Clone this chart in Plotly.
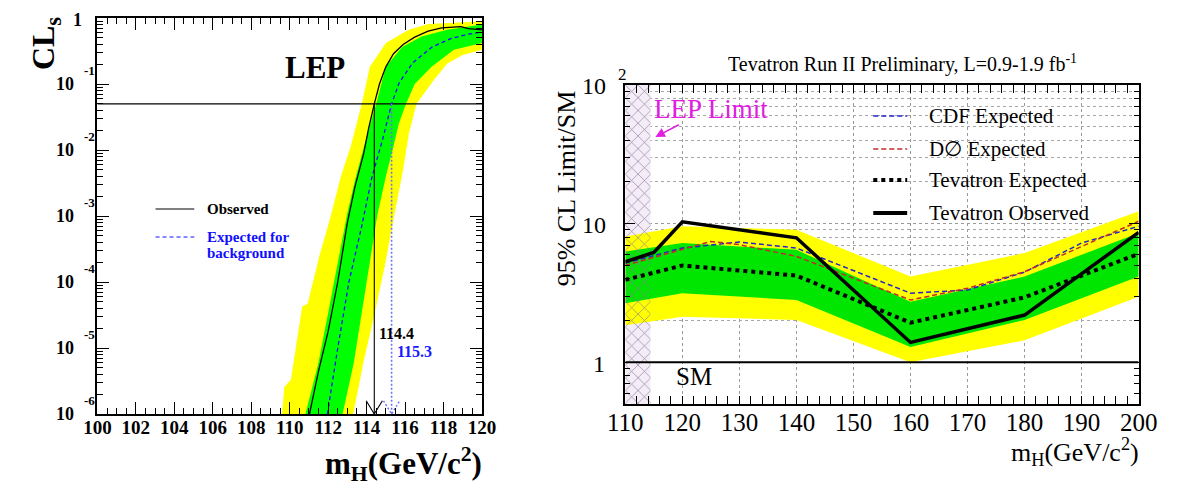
import plotly.graph_objects as go

W, H = 1178, 484
SERIF = "Liberation Serif"

# ---------------- LEP combined CLs (left) ----------------
obs_mass = [111.03, 111.5, 112.0, 112.5, 113.0, 113.4, 113.85, 114.1, 114.4, 114.67,
            115.0, 115.4, 115.9, 116.5, 117.2, 117.9, 118.9, 119.3, 120.0]
obs_cls = [1.0e-6, 4.47e-6, 1.78e-5, 1.0e-4, 7.94e-4, 2.82e-3, 8.91e-3, 0.0209, 0.050, 0.100,
           0.182, 0.288, 0.398, 0.513, 0.631, 0.708, 0.741, 0.692, 0.661]

exp_mass = [111.96, 112.5, 113.08, 113.75, 114.27, 114.85, 115.3, 115.7, 116.4, 117.4,
            118.4, 119.2, 120.0]
exp_cls = [1.0e-6, 1.0e-5, 1.0e-4, 7.08e-4, 3.8e-3, 0.0151, 0.050, 0.105, 0.209, 0.363,
           0.490, 0.562, 0.617]

# +-1 sigma band edges (low-mass side / high-mass side)
g1_lo_mass = [110.82, 111.49, 112.0, 112.5, 113.0, 113.4, 113.95, 114.5, 115.0, 115.85,
              116.86, 118.2, 120.0]
g1_lo_cls = [1.0e-6, 5.89e-6, 3.39e-5, 1.95e-4, 1.12e-3, 3.55e-3, 0.0141, 0.050, 0.182,
             0.363, 0.525, 0.661, 0.794]
g1_hi_mass = [112.75, 113.33, 113.75, 114.17, 114.55, 115.0, 115.35, 115.68, 116.05,
              116.5, 117.38, 118.54, 120.0]
g1_hi_cls = [1.0e-6, 5.89e-6, 3.39e-5, 1.95e-4, 1.0e-3, 3.98e-3, 0.010, 0.0251, 0.050,
             0.100, 0.182, 0.331, 0.417]

# +-2 sigma band edges
y2_lo_mass = [109.6, 109.72, 110.06, 110.65, 110.93, 111.55, 112.08, 112.66, 113.17,
              113.75, 114.17, 115.0, 116.19, 117.2, 120.0]
y2_lo_cls = [1.0e-6, 2.57e-6, 3.31e-6, 4.27e-5, 4.68e-5, 2.51e-4, 8.71e-4, 3.98e-3,
             0.0112, 0.050, 0.182, 0.417, 0.661, 0.813, 0.891]
y2_hi_mass = [113.3, 113.85, 114.4, 114.95, 115.5, 115.9, 116.2, 116.6, 117.5, 118.2,
              119.0, 120.0]
y2_hi_cls = [1.0e-6, 6.31e-6, 3.16e-5, 1.78e-4, 1.26e-3, 5.01e-3, 0.0178, 0.050, 0.115,
             0.204, 0.275, 0.331]

cls_level = 0.05
obs_limit = 114.4
exp_limit = 115.3

# ---------------- Tevatron combination (right) ----------------
tev_obs_mass = [110, 115, 120, 140, 160, 180, 200]
tev_obs = [5.3, 6.2, 10.3, 7.9, 1.39, 2.19, 8.65]

tev_mass = [110, 120, 140, 160, 180, 200]
tev_exp = [3.93, 4.99, 4.22, 1.93, 2.94, 6.06]
tev_1s_lo = [2.66, 3.15, 2.81, 1.29, 2.02, 4.15]
tev_1s_hi = [6.3, 7.25, 6.47, 2.73, 4.15, 8.56]
tev_2s_lo = [1.85, 2.13, 2.02, 1.0, 1.44, 2.97]
tev_2s_hi = [8.09, 9.56, 9.05, 4.15, 6.13, 12.3]

cdf_mass = [110, 120, 130, 140, 160, 170, 180, 190, 200]
cdf_exp = [5.19, 6.67, 7.37, 6.67, 3.15, 3.32, 4.47, 7.25, 9.56]

d0_mass = [110, 120, 125, 130, 140, 160, 170, 180, 190, 200]
d0_exp = [5.0, 6.47, 7.44, 7.05, 5.8, 2.81, 3.42, 4.5, 6.85, 10.4]

lep_limit = 114.4
sm_ratio = 1.0
x2_range = [110, 200]
y2_range = [0.5, 100]


def fx(p):
    return p / W


def fy(p):
    return 1 - p / H


fig = go.Figure()


def band(xlo, ylo, xhi, yhi, color, xa, ya):
    fig.add_trace(go.Scatter(
        x=list(xlo) + list(xhi)[::-1], y=list(ylo) + list(yhi)[::-1],
        mode="lines", line=dict(width=0), fill="toself", fillcolor=color,
        xaxis=xa, yaxis=ya, hoverinfo="skip"))


# ----- left panel -----
band(y2_lo_mass, y2_lo_cls, y2_hi_mass, y2_hi_cls, "#ffff00", "x", "y")
band(g1_lo_mass, g1_lo_cls, g1_hi_mass, g1_hi_cls, "#00ff00", "x", "y")

fig.add_trace(go.Scatter(x=[100, 120], y=[cls_level, cls_level], mode="lines",
                         line=dict(color="black", width=1.1), xaxis="x", yaxis="y"))
fig.add_trace(go.Scatter(x=exp_mass, y=exp_cls, mode="lines",
                         line=dict(color="#1010ff", width=1.3, dash="4px,3px"),
                         xaxis="x", yaxis="y"))
fig.add_trace(go.Scatter(x=obs_mass, y=obs_cls, mode="lines",
                         line=dict(color="black", width=1.3), xaxis="x", yaxis="y"))

# limit markers: vertical line with an open arrow head at the axis
arm_dx, arm_dy = 0.42, 10 ** 0.2
fig.add_trace(go.Scatter(x=[obs_limit, obs_limit], y=[cls_level, 1e-6], mode="lines",
                         line=dict(color="black", width=1.1), xaxis="x", yaxis="y"))
fig.add_trace(go.Scatter(x=[obs_limit - arm_dx, obs_limit, obs_limit + arm_dx],
                         y=[1e-6 * arm_dy, 1e-6, 1e-6 * arm_dy], mode="lines",
                         line=dict(color="black", width=1.1), xaxis="x", yaxis="y"))
fig.add_trace(go.Scatter(x=[exp_limit, exp_limit], y=[cls_level, 1e-6], mode="lines",
                         line=dict(color="#6f6fff", width=1.6, dash="2px,2px"),
                         xaxis="x", yaxis="y"))
fig.add_trace(go.Scatter(x=[exp_limit - arm_dx, exp_limit, exp_limit + arm_dx],
                         y=[1e-6 * arm_dy, 1e-6, 1e-6 * arm_dy], mode="lines",
                         line=dict(color="#6f6fff", width=1.4, dash="2px,2px"),
                         xaxis="x", yaxis="y"))

# ----- right panel -----
lep_x = [x2_range[0], lep_limit, lep_limit, x2_range[0]]
lep_y = [y2_range[0], y2_range[0], y2_range[1], y2_range[1]]
fig.add_trace(go.Scatter(x=lep_x, y=lep_y, mode="lines", line=dict(width=0),
                         fill="toself", fillcolor="#f4ecf6",
                         xaxis="x2", yaxis="y2", hoverinfo="skip"))
band(tev_mass, tev_2s_lo, tev_mass, tev_2s_hi, "#ffff00", "x2", "y2")
band(tev_mass, tev_1s_lo, tev_mass, tev_1s_hi, "#00e600", "x2", "y2")
# cross-hatching of the excluded LEP region, drawn over the bands
fig.add_trace(go.Scatter(x=lep_x, y=lep_y, mode="lines", line=dict(width=0),
                         fill="toself", fillcolor="#8a7a98",
                         fillpattern=dict(shape="x", fgcolor="#8a7a98",
                                          bgcolor="rgba(255,255,255,0)", fgopacity=0.9,
                                          size=9, solidity=0.15),
                         xaxis="x2", yaxis="y2", hoverinfo="skip"))

fig.add_trace(go.Scatter(x=cdf_mass, y=cdf_exp, mode="lines",
                         line=dict(color="#2323c8", width=1.5, dash="5px,3px"),
                         xaxis="x2", yaxis="y2"))
fig.add_trace(go.Scatter(x=d0_mass, y=d0_exp, mode="lines",
                         line=dict(color="#c42a2a", width=1.5, dash="5px,3px"),
                         xaxis="x2", yaxis="y2"))
fig.add_trace(go.Scatter(x=tev_mass, y=tev_exp, mode="lines",
                         line=dict(color="black", width=4, dash="dot"),
                         xaxis="x2", yaxis="y2"))
fig.add_trace(go.Scatter(x=tev_obs_mass, y=tev_obs, mode="lines",
                         line=dict(color="black", width=3.5),
                         xaxis="x2", yaxis="y2"))
# SM reference line, on the companion axis that carries the dotted grid
fig.add_trace(go.Scatter(x=x2_range, y=[sm_ratio, sm_ratio], mode="lines",
                         line=dict(color="black", width=2), xaxis="x2", yaxis="y3"))

# ----- axes -----
minor_left = [m * 10.0 ** e for e in range(-6, 0) for m in range(2, 10)]
below_one = [m / 10 for m in range(6, 10)]
grid_right = [m * 1.0 for m in range(2, 10)] + [m * 10.0 for m in range(2, 10)]

fig.update_layout(
    width=W, height=H, margin=dict(l=0, r=0, t=0, b=0),
    paper_bgcolor="white", plot_bgcolor="white", showlegend=False,
    xaxis=dict(domain=[fx(82), fx(479)], anchor="y", range=[100, 120],
               tickmode="linear", tick0=100, dtick=2, ticks="inside", ticklen=12,
               tickwidth=1, tickcolor="black", showline=True, linecolor="black",
               linewidth=1.5, mirror="allticks", showgrid=False, zeroline=False,
               ticklabelstandoff=-5,
               tickfont=dict(family=SERIF, size=19, color="black", weight="bold"),
               minor=dict(dtick=0.5, ticks="inside", ticklen=6, tickcolor="black",
                          tickwidth=1, showgrid=False)),
    yaxis=dict(domain=[fy(414), fy(18)], anchor="x", type="log", range=[-6, 0],
               tickmode="array", tickvals=[10.0 ** e for e in range(-6, 1)],
               ticks="inside", ticklen=12, tickwidth=1, tickcolor="black",
               showline=True, linecolor="black", linewidth=1.5, mirror="allticks",
               showgrid=False, zeroline=False, showticklabels=False,
               minor=dict(tickmode="array", tickvals=minor_left, ticks="inside",
                          ticklen=6, tickcolor="black", tickwidth=1, showgrid=False)),
    xaxis2=dict(domain=[fx(627), fx(1157)], anchor="y2", range=x2_range,
                tickmode="linear", tick0=110, dtick=10, ticks="inside", ticklen=8,
                tickwidth=1, tickcolor="black", showline=True, linecolor="black",
                linewidth=2.2, mirror="allticks", showgrid=True, gridcolor="#9a9a9a",
                griddash="dot", gridwidth=1, zeroline=False, ticklabelstandoff=-5,
                tickfont=dict(family=SERIF, size=25, color="black"),
                minor=dict(dtick=2, ticks="inside", ticklen=4, tickcolor="black",
                           tickwidth=1, showgrid=False)),
    yaxis2=dict(domain=[fy(404), fy(85)], anchor="x2", type="log", range=[-0.30103, 2],
                tickmode="array", tickvals=[1, 10, 100], ticks="inside", ticklen=10,
                tickwidth=1, tickcolor="black", showline=True, linecolor="black",
                linewidth=2.2, mirror="allticks", showgrid=True, gridcolor="#9a9a9a",
                griddash="dot", gridwidth=1, zeroline=False, showticklabels=False,
                minor=dict(tickmode="array", tickvals=below_one + grid_right,
                           ticks="inside", ticklen=5, tickcolor="black", tickwidth=1,
                           showgrid=False)),
    # companion axis carrying only the dotted grid above SM = 1
    yaxis3=dict(domain=[fy(404), fy(85)], anchor="x2", overlaying="y2", type="log",
                range=[-0.30103, 2], tickmode="array", tickvals=grid_right, ticks="",
                showticklabels=False, showline=False, zeroline=False, showgrid=True,
                gridcolor="#a8a8a8", griddash="dot", gridwidth=1),
)

ann = []
shapes = []


def text(x, y, s, size, color="black", bold=False, xanchor="center", angle=0,
         yref="paper", yshift=0):
    ann.append(dict(x=fx(x), y=y if yref != "paper" else fy(y), xref="paper", yref=yref,
                    text=s, showarrow=False, xanchor=xanchor, yanchor="middle",
                    textangle=angle, yshift=yshift,
                    font=dict(family=SERIF, size=size, color=color,
                              weight="bold" if bold else "normal")))


# left panel texts
text(28, 44, "CL<sub>s</sub>", 32, bold=True, angle=-90)
text(61.5, 20, "1", 18, bold=True)
for k in range(1, 7):
    text(60, -k, "10", 18, bold=True, xanchor="right", yref="y")
    text(66, -k, "-%d" % k, 13, bold=True, xanchor="left", yref="y", yshift=14)
text(307, 67, "LEP", 31, bold=True)
text(193, 209, "Observed", 15, bold=True, xanchor="left")
text(193, 237, "Expected for", 15, color="#1010ff", bold=True, xanchor="left")
text(193, 253, "background", 15, color="#1010ff", bold=True, xanchor="left")
text(371, 333, "114.4", 16, bold=True, xanchor="left")
text(389, 351, "115.3", 16, color="#1a1aff", bold=True, xanchor="left")
ann.append(dict(x=fx(481), y=fy(464), xref="paper", yref="paper", showarrow=False,
                text="m<sub>H</sub>(GeV/c<sup>2</sup>)", xanchor="right", yanchor="middle",
                font=dict(family=SERIF, size=31, color="black", weight="bold")))
shapes.append(dict(type="line", xref="paper", yref="paper", x0=fx(142), x1=fx(182),
                   y0=fy(209), y1=fy(209), line=dict(color="black", width=1.2)))
shapes.append(dict(type="line", xref="paper", yref="paper", x0=fx(142), x1=fx(182),
                   y0=fy(237), y1=fy(237), line=dict(color="#1010ff", width=1.2,
                                                     dash="4px,3px")))

# right panel texts
text(913, 63, "Tevatron Run II Preliminary, L=0.9-1.9 fb<sup>-1</sup>", 20)
text(566, 188, "95% CL Limit/SM", 26, angle=-90)
text(608, 364, "1", 24, xanchor="right")
text(609, 225, "10", 24, xanchor="right")
text(609, 86, "10", 24, xanchor="right")
text(617, 74, "2", 17, xanchor="left")
text(715, 109, "LEP Limit", 27, color="#e020e0")
ann.append(dict(x=fx(658), y=fy(137), xref="paper", yref="paper", text="",
                showarrow=True, ax=25, ay=-13, arrowhead=2, arrowsize=1.2,
                arrowwidth=1.6, arrowcolor="#e020e0"))
text(698, 376, "SM", 25)
ann.append(dict(x=fx(1159), y=fy(452), xref="paper", yref="paper", showarrow=False,
                text="m<sub>H</sub>(GeV/c<sup>2</sup>)", xanchor="right", yanchor="middle",
                font=dict(family=SERIF, size=26, color="black")))

# right legend
shapes.append(dict(type="rect", xref="paper", yref="paper", x0=fx(875), x1=fx(1105),
                   y0=fy(220), y1=fy(97), fillcolor="white", line=dict(width=0),
                   layer="between"))
legend_rows = [
    (116, "CDF Expected", dict(color="#2323c8", width=1.5, dash="5px,3px")),
    (149, "D\u2205 Expected", dict(color="#c42a2a", width=1.5, dash="5px,3px")),
    (180, "Tevatron Expected", dict(color="black", width=4, dash="dot")),
    (213, "Tevatron Observed", dict(color="black", width=4)),
]
for yy, label, ln in legend_rows:
    shapes.append(dict(type="line", xref="paper", yref="paper", x0=fx(883), x1=fx(918),
                       y0=fy(yy), y1=fy(yy), line=ln))
    text(938, yy, label, 21, xanchor="left")

fig.update_layout(annotations=ann, shapes=shapes)
fig.write_html("out.html")
